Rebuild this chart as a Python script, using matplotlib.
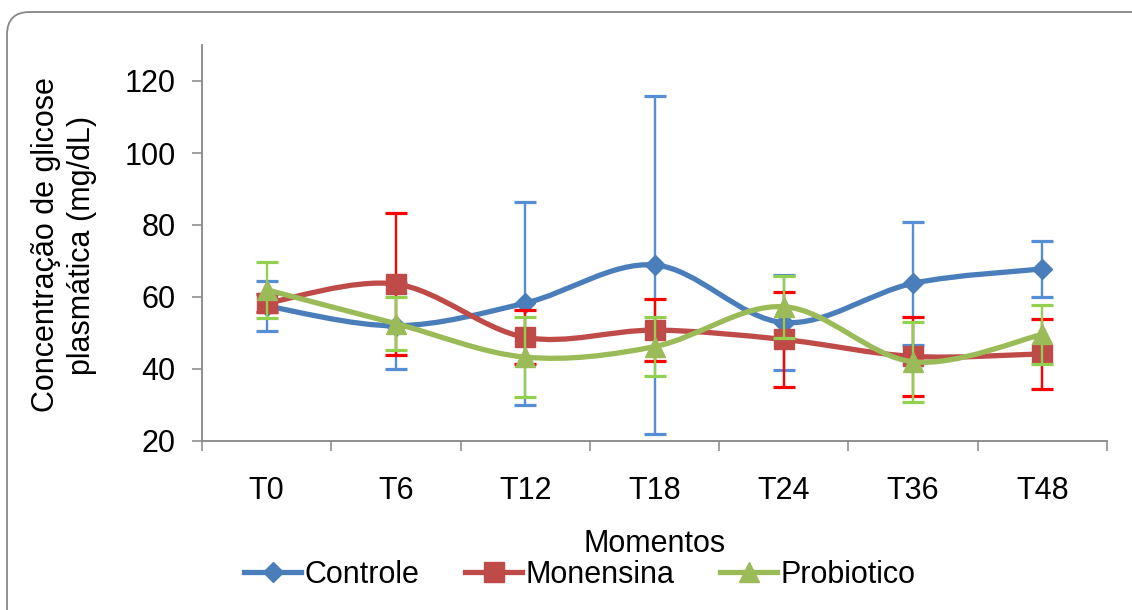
import matplotlib
matplotlib.use("Agg")
import matplotlib.pyplot as plt
import numpy as np
from matplotlib.path import Path
from matplotlib.patches import PathPatch, FancyBboxPatch

plt.rcParams['font.family'] = ['Liberation Sans', 'DejaVu Sans']

categories = ["T0", "T6", "T12", "T18", "T24", "T36", "T48"]
controle = [57.5, 52.0, 58.3, 68.9, 52.9, 63.8, 67.8]
controle_err = [7.0, 12.0, 28.2, 47.0, 13.2, 17.0, 7.8]
monensina = [58.3, 63.6, 48.8, 50.8, 48.2, 43.5, 44.2]
monensina_err = [2.5, 19.6, 7.5, 8.6, 13.2, 10.9, 9.7]
probiotico = [62.0, 52.6, 43.3, 46.2, 57.3, 42.0, 49.6]
probiotico_err = [7.8, 7.3, 11.2, 8.2, 8.6, 11.1, 8.3]

series_names = ["Controle", "Monensina", "Probiotico"]
line_colors = ["#4A7EBB", "#BE4B48", "#9BBB59"]
err_colors = ["#558ED5", "#FF0000", "#92D050"]
markers = ["D", "s", "^"]
msizes = [10, 14, 14]

FS = 22
W, H = 1132, 610
fig = plt.figure(figsize=(W / 100, H / 100), dpi=100)
ax = fig.add_axes([202 / W, 1 - 441 / H, (1107 - 202) / W, (441 - 45) / H])

# rounded chart border
border = FancyBboxPatch((7 / W, -0.05), 1.2, 1 - 12 / H + 0.05,
                        boxstyle="round,pad=0,rounding_size=0.02",
                        transform=fig.transFigure, facecolor="none",
                        edgecolor="#868686", linewidth=1.3, zorder=0,
                        mutation_aspect=W / H)
fig.patches.append(border)


def smooth_path(xs, ys):
    pts = np.column_stack([xs, ys]).astype(float)
    n = len(pts)
    verts = [pts[0]]
    codes = [Path.MOVETO]
    for i in range(n - 1):
        p0 = pts[i - 1] if i > 0 else pts[i]
        p1 = pts[i]
        p2 = pts[i + 1]
        p3 = pts[i + 2] if i + 2 < n else pts[i + 1]
        c1 = p1 + (p2 - p0) / 6.0
        c2 = p2 - (p3 - p1) / 6.0
        verts += [c1, c2, p2]
        codes += [Path.CURVE4] * 3
    return Path(verts, codes)


x = np.arange(len(categories))
data = [(controle, controle_err), (monensina, monensina_err), (probiotico, probiotico_err)]
handles = []
for k, (vals, errs) in enumerate(data):
    z = 2 + 3 * k
    ax.errorbar(x, vals, yerr=errs, fmt="none", ecolor=err_colors[k],
                elinewidth=1.7, capsize=8, capthick=2.3, zorder=z)
    patch = PathPatch(smooth_path(x, vals), facecolor="none",
                      edgecolor=line_colors[k], linewidth=3.8,
                      capstyle="round", joinstyle="round", zorder=z + 1)
    ax.add_patch(patch)
    ax.plot(x, vals, linestyle="none", marker=markers[k], markersize=msizes[k],
            color=line_colors[k], markeredgecolor=line_colors[k], zorder=z + 2)
    h, = ax.plot([], [], color=line_colors[k], linewidth=3.8, marker=markers[k],
                 markersize=msizes[k], markeredgecolor=line_colors[k])
    handles.append(h)

ax.set_xlim(-0.5, len(categories) - 0.5)
ax.set_ylim(20, 130)
ax.set_yticks([20, 40, 60, 80, 100, 120])
ax.set_xticks(x)
ax.set_xticklabels(categories)
ax.set_xticks(np.arange(-0.5, len(categories), 1.0), minor=True)

for s in ["top", "right"]:
    ax.spines[s].set_visible(False)
for s in ["left", "bottom"]:
    ax.spines[s].set_color("#868686")
    ax.spines[s].set_linewidth(1.3)

ax.tick_params(axis="y", which="major", direction="out", length=7, width=1.1,
               color="#868686", pad=12, labelsize=FS)
ax.tick_params(axis="x", which="major", length=0, pad=25, labelsize=FS)
ax.tick_params(axis="x", which="minor", direction="out", length=7, width=1.1,
               color="#868686")

ax.set_xlabel("Momentos", fontsize=FS, va="center")
ax.xaxis.set_label_coords(0.5, (441 - 544) / 396)
ax.set_ylabel("Concentração de glicose\nplasmática (mg/dL)", fontsize=FS,
              va="center", ha="center", linespacing=1.25)
ax.yaxis.set_label_coords((64 - 202) / 905, (441 - 245) / 396)

fig.legend(handles, series_names, loc="center",
           bbox_to_anchor=(580 / W, 1 - 575 / H), ncol=3, frameon=False,
           fontsize=FS, handlelength=1.85, handletextpad=0.12,
           columnspacing=1.5, borderpad=0, borderaxespad=0)

fig.savefig("out.png", dpi=100)
